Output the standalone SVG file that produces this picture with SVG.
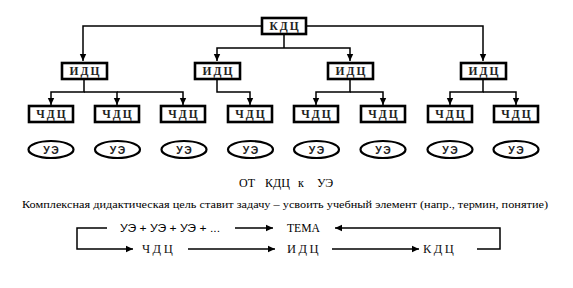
<svg xmlns="http://www.w3.org/2000/svg" width="573" height="288" viewBox="0 0 573 288">
<style>
.box{fill:#fff;stroke:#000;stroke-width:2.6}
.bt{font-family:"Liberation Serif",serif;font-weight:bold;font-size:11.5px;letter-spacing:2px;text-anchor:middle;fill:#222}
.el{fill:#fff;stroke:#000;stroke-width:2.2}
.et{font-family:"Liberation Sans",sans-serif;font-weight:bold;font-size:10.5px;letter-spacing:1.5px;text-anchor:middle;fill:#222}
.ln{fill:none;stroke:#000;stroke-width:1.5}
.ser{font-family:"Liberation Serif",serif;fill:#000}
.sans{font-family:"Liberation Sans",sans-serif;font-size:11px;fill:#000}
.fl{font-family:"Liberation Serif",serif;font-size:12.5px;letter-spacing:2.5px;fill:#111}
</style>
<defs>
<marker id="ah" markerWidth="8" markerHeight="8" refX="7" refY="4" orient="auto" markerUnits="userSpaceOnUse">
<path d="M0,0.8 L7,4 L0,7.2 Z" fill="#000"/>
</marker>
</defs>
<g id="connectors">
<path class="ln" d="M261,26 H83 V61" marker-end="url(#ah)"/>
<path class="ln" d="M306,26 H483 V61" marker-end="url(#ah)"/>
<path class="ln" d="M284,35 V48"/>
<path class="ln" d="M284,48 H217 V61" marker-end="url(#ah)"/>
<path class="ln" d="M284,48 H350 V61" marker-end="url(#ah)"/>
<path class="ln" d="M84,80 V92 H51 V105" marker-end="url(#ah)"/>
<path class="ln" d="M84,92 H117 V105" marker-end="url(#ah)"/>
<path class="ln" d="M117,92 H183 V105" marker-end="url(#ah)"/>
<path class="ln" d="M217,80 V92 H250 V105" marker-end="url(#ah)"/>
<path class="ln" d="M350,80 V92 H316 V105" marker-end="url(#ah)"/>
<path class="ln" d="M350,92 H383 V105" marker-end="url(#ah)"/>
<path class="ln" d="M483,80 V92 H450 V105" marker-end="url(#ah)"/>
<path class="ln" d="M483,92 H516 V105" marker-end="url(#ah)"/>
<path class="ln" d="M107,228 H77 V249 H133" marker-end="url(#ah)"/>
<path class="ln" d="M235,228 H273" marker-end="url(#ah)"/>
<path class="ln" d="M188,249 H275" marker-end="url(#ah)"/>
<path class="ln" d="M332,249 H419" marker-end="url(#ah)"/>
<path class="ln" d="M477,249 H500 V228 H335" marker-end="url(#ah)"/>
</g>
<g id="kdc"><rect class="box" x="262" y="18" width="44" height="16"/><text class="bt" x="285" y="30">КДЦ</text></g>
<g id="idc1"><rect class="box" x="62" y="63" width="45" height="16"/><text class="bt" x="85.5" y="75">ИДЦ</text></g>
<g id="idc2"><rect class="box" x="195" y="63" width="45" height="16"/><text class="bt" x="218.5" y="75">ИДЦ</text></g>
<g id="idc3"><rect class="box" x="328" y="63" width="45" height="16"/><text class="bt" x="351.5" y="75">ИДЦ</text></g>
<g id="idc4"><rect class="box" x="461" y="63" width="45" height="16"/><text class="bt" x="484.5" y="75">ИДЦ</text></g>
<g id="chdc1"><rect class="box" x="29" y="106" width="44" height="16"/><text class="bt" x="52" y="118">ЧДЦ</text></g>
<g id="chdc2"><rect class="box" x="95" y="106" width="44" height="16"/><text class="bt" x="118" y="118">ЧДЦ</text></g>
<g id="chdc3"><rect class="box" x="161" y="106" width="44" height="16"/><text class="bt" x="184" y="118">ЧДЦ</text></g>
<g id="chdc4"><rect class="box" x="228" y="106" width="44" height="16"/><text class="bt" x="251" y="118">ЧДЦ</text></g>
<g id="chdc5"><rect class="box" x="294" y="106" width="44" height="16"/><text class="bt" x="317" y="118">ЧДЦ</text></g>
<g id="chdc6"><rect class="box" x="361" y="106" width="44" height="16"/><text class="bt" x="384" y="118">ЧДЦ</text></g>
<g id="chdc7"><rect class="box" x="428" y="106" width="44" height="16"/><text class="bt" x="451" y="118">ЧДЦ</text></g>
<g id="chdc8"><rect class="box" x="494" y="106" width="44" height="16"/><text class="bt" x="517" y="118">ЧДЦ</text></g>
<g id="ue1"><ellipse class="el" cx="51" cy="149.5" rx="22.5" ry="8.5"/><text class="et" x="51.8" y="153.5">УЭ</text></g>
<g id="ue2"><ellipse class="el" cx="117.5" cy="149.5" rx="22.5" ry="8.5"/><text class="et" x="118.3" y="153.5">УЭ</text></g>
<g id="ue3"><ellipse class="el" cx="184" cy="149.5" rx="22.5" ry="8.5"/><text class="et" x="184.8" y="153.5">УЭ</text></g>
<g id="ue4"><ellipse class="el" cx="250.5" cy="149.5" rx="22.5" ry="8.5"/><text class="et" x="251.3" y="153.5">УЭ</text></g>
<g id="ue5"><ellipse class="el" cx="316.5" cy="149.5" rx="22.5" ry="8.5"/><text class="et" x="317.3" y="153.5">УЭ</text></g>
<g id="ue6"><ellipse class="el" cx="383" cy="149.5" rx="22.5" ry="8.5"/><text class="et" x="383.8" y="153.5">УЭ</text></g>
<g id="ue7"><ellipse class="el" cx="450" cy="149.5" rx="22.5" ry="8.5"/><text class="et" x="450.8" y="153.5">УЭ</text></g>
<g id="ue8"><ellipse class="el" cx="516" cy="149.5" rx="22.5" ry="8.5"/><text class="et" x="516.8" y="153.5">УЭ</text></g>
<g id="caption">
<text class="ser" font-size="12" y="187"><tspan x="239">ОТ</tspan><tspan x="265">КДЦ</tspan><tspan x="298">к</tspan><tspan x="317">УЭ</tspan></text>
<text class="ser" font-size="10.5" x="22" y="208" textLength="526" lengthAdjust="spacingAndGlyphs">Комплексная дидактическая цель ставит задачу – усвоить учебный элемент (напр., термин, понятие)</text>
</g>
<g id="flow">
<text class="sans" x="120" y="232" textLength="100" lengthAdjust="spacingAndGlyphs">УЭ + УЭ + УЭ + ...</text>
<text class="ser" font-size="11.5" x="287" y="232" textLength="33" lengthAdjust="spacingAndGlyphs">ТЕМА</text>
<text class="fl" x="142" y="253">ЧДЦ</text>
<text class="fl" x="287" y="253">ИДЦ</text>
<text class="fl" x="423" y="253">КДЦ</text>
</g>
</svg>
